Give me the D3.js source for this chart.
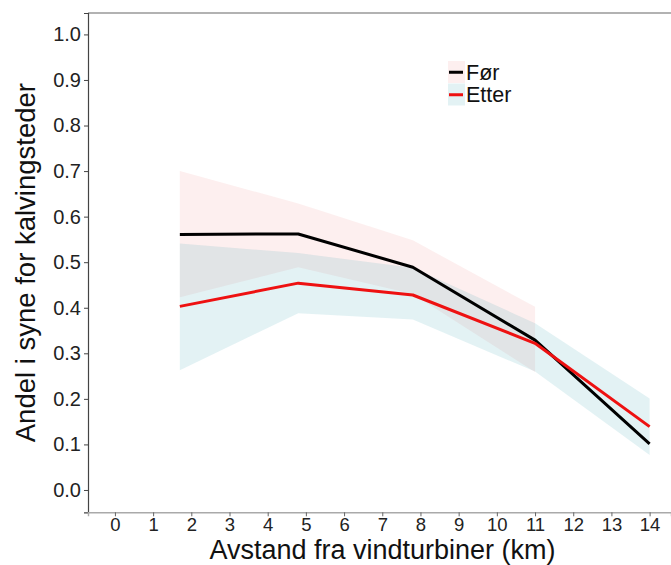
<!DOCTYPE html>
<html>
<head>
<meta charset="utf-8">
<script src="https://cdn.jsdelivr.net/npm/d3@7"></script>
<style>
  html, body { margin: 0; padding: 0; background: #fff; }
  svg { display: block; font-family: "Liberation Sans", Arial, sans-serif; }
</style>
</head>
<body>
<svg id="chart" width="671" height="565"></svg>
<script>
// Data
const distance   = [1.7, 4.8, 7.8, 11, 14];
const forMean    = [0.561, 0.562, 0.489, 0.329, 0.101];
const forLower   = [0.423, 0.489, 0.430, 0.259];
const forUpper   = [0.700, 0.629, 0.548, 0.402];
const etterMean  = [0.403, 0.454, 0.428, 0.322, 0.139];
const etterLower = [0.263, 0.388, 0.374, 0.260, 0.077];
const etterUpper = [0.541, 0.520, 0.488, 0.366, 0.201];
const xTicks = [0,1,2,3,4,5,6,7,8,9,10,11,12,13,14];
const yTicks = [0.0,0.1,0.2,0.3,0.4,0.5,0.6,0.7,0.8,0.9,1.0];
const seriesNames = ["Før", "Etter"];
const xTitle = "Avstand fra vindturbiner (km)";
const yTitle = "Andel i syne for kalvingsteder";

const svg = d3.select("#chart");
const L = 88, R = 671, T = 13, B = 512.3;

const x = d3.scaleLinear().domain([-0.705, 14.56]).range([L, R]);
const y = d3.scaleLinear().domain([-0.049, 1.047]).range([B, T]);

const forBand = forLower.map((lo, i) => ({x: distance[i], lo, hi: forUpper[i]}));
const etterBand = etterLower.map((lo, i) => ({x: distance[i], lo, hi: etterUpper[i]}));
const forLine = forMean.map((v, i) => ({x: distance[i], v}));
const etterLine = etterMean.map((v, i) => ({x: distance[i], v}));

const area = d3.area().x(d => x(d.x)).y0(d => y(d.lo)).y1(d => y(d.hi));
const line = d3.line().x(d => x(d.x)).y(d => y(d.v));

const pinkFill = "#F06A6A", pinkOp = 0.11;
const blueFill = "#2a9aaa", blueOp = 0.13;

svg.append("path").attr("d", area(forBand)).attr("fill", pinkFill).attr("fill-opacity", pinkOp);
svg.append("path").attr("d", area(etterBand)).attr("fill", blueFill).attr("fill-opacity", blueOp);

svg.append("path").attr("d", line(forLine)).attr("fill", "none")
  .attr("stroke", "#000").attr("stroke-width", 3).attr("stroke-linejoin", "round");
svg.append("path").attr("d", line(etterLine)).attr("fill", "none")
  .attr("stroke", "#ee1111").attr("stroke-width", 3).attr("stroke-linejoin", "round");

// top border
svg.append("line").attr("x1", L).attr("x2", R).attr("y1", T).attr("y2", T)
  .attr("stroke", "#666").attr("stroke-width", 1.2);

// axes
const yAxis = svg.append("g").attr("transform", `translate(${L},0)`)
  .call(d3.axisLeft(y).tickValues(yTicks).tickFormat(d3.format(".1f")).tickSize(4).tickPadding(3));
yAxis.select(".domain").attr("stroke", "#444").attr("stroke-width", 1.2);
yAxis.selectAll(".tick line").attr("stroke", "#444");
yAxis.selectAll("text").attr("font-size", 20).attr("fill", "#222")
  .attr("font-family", "Liberation Sans, Arial, sans-serif");

const xAxis = svg.append("g").attr("transform", `translate(0,${B})`)
  .call(d3.axisBottom(x).tickValues(xTicks).tickFormat(d3.format("d")).tickSize(4).tickPadding(2));
xAxis.select(".domain").attr("stroke", "#aaa").attr("stroke-width", 1.4);
xAxis.selectAll(".tick line").attr("stroke", "#666");
xAxis.selectAll("text").attr("font-size", 18.5).attr("fill", "#222")
  .attr("font-family", "Liberation Sans, Arial, sans-serif");

// titles
svg.append("text").attr("x", (L + R) / 2 + 3).attr("y", 559)
  .attr("text-anchor", "middle").attr("font-size", 27).attr("fill", "#111").text(xTitle);
svg.append("text").attr("transform", `translate(35,${(T + B) / 2}) rotate(-90)`)
  .attr("text-anchor", "middle").attr("font-size", 27.5).attr("fill", "#111").text(yTitle);

// legend
const legendX = 448, legendY = 61, keyW = 17, keyH = 22.5;
const keyFill = [pinkFill, blueFill];
const keyFillOp = [pinkOp, blueOp];
const keyStroke = ["#000", "#ee1111"];
seriesNames.forEach((name, i) => {
  const g = svg.append("g").attr("transform", `translate(${legendX},${legendY + i * keyH})`);
  g.append("rect").attr("width", keyW).attr("height", keyH - 0.5)
    .attr("fill", keyFill[i]).attr("fill-opacity", keyFillOp[i]);
  g.append("line").attr("x1", 1).attr("x2", keyW - 2).attr("y1", keyH / 2).attr("y2", keyH / 2)
    .attr("stroke", keyStroke[i]).attr("stroke-width", 3);
  g.append("text").attr("x", keyW + 1).attr("y", keyH / 2 + 7.5)
    .attr("font-size", 21.5).attr("fill", "#111").text(name);
});
</script>
</body>
</html>
